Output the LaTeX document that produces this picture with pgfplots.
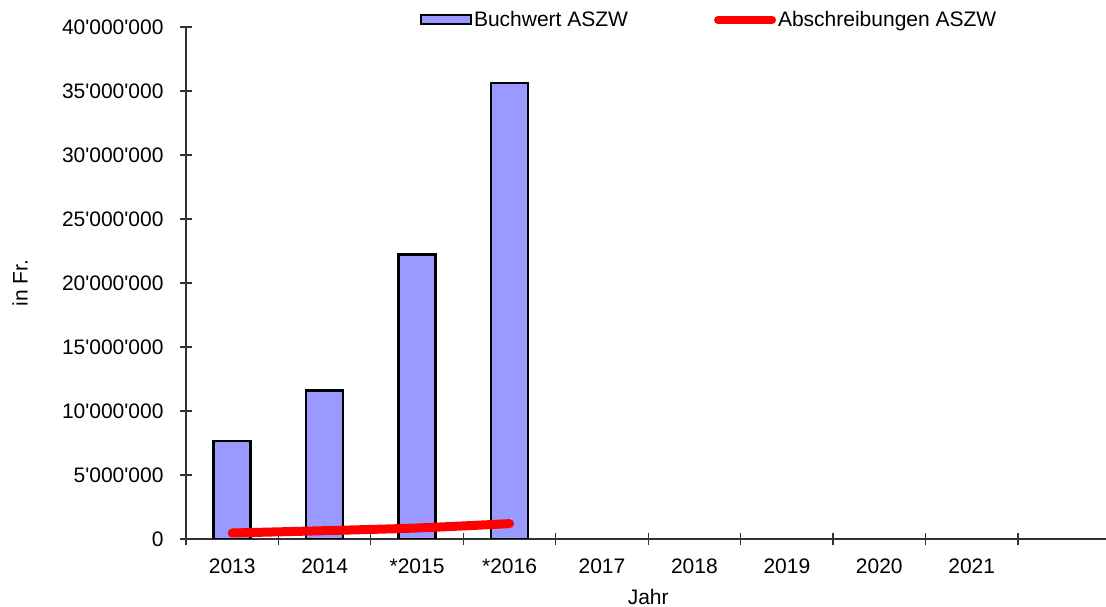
\documentclass[border=0pt]{standalone}
\usepackage{pgfplots}
\pgfplotsset{compat=1.18}
\usepackage{fontspec}
\setmainfont{Liberation Sans}[Ligatures=TeXOff]
\definecolor{barblue}{HTML}{9999FF}
\newcommand{\ff}{\fontsize{21}{25}\selectfont}
\begin{document}
\begin{tikzpicture}
\begin{axis}[
  at={(186pt,68pt)}, anchor=south west,
  scale only axis, width=924.4pt, height=512pt,
  xmin=-0.5, xmax=9.5, ymin=0, ymax=40000000,
  axis x line=bottom, axis y line=left, axis line style={-, draw=black!80, line width=1.2pt},
  xtick={0,...,8},
  xticklabels={2013,2014,*2015,*2016,2017,2018,2019,2020,2021},
  major x tick style={draw=none},
  minor xtick={-0.5,0.5,1.5,2.5,3.5,4.5,5.5,6.5,7.5,8.5},
  minor tick length=12pt, major tick length=12pt,
  tick align=center,
  every tick/.style={draw=black!80, line width=1.2pt},
  ytick={0,5000000,10000000,15000000,20000000,25000000,30000000,35000000,40000000},
  yticklabels={0,5'000'000,10'000'000,15'000'000,20'000'000,25'000'000,30'000'000,35'000'000,40'000'000},
  scaled y ticks=false,
  tick label style={font=\ff},
  yticklabel style={xshift=-13pt},
  xticklabel style={yshift=-10pt},
  label style={font=\ff},
  xlabel={Jahr}, ylabel={in Fr.},
  xlabel style={at={(axis description cs:0.5,-0.1125)}, anchor=center},
  ylabel style={at={(axis description cs:-0.1796,0.5)}, anchor=center},
  legend columns=2,
  legend style={draw=none, fill=none, font=\ff, at={(axis description cs:0.2497,1.0137)}, anchor=west,
    /tikz/every even column/.append style={column sep=84pt}},
]
\addplot[ybar, bar width=37pt, fill=barblue, draw=black, line width=2.5pt,
  legend image code/.code={\draw[fill=barblue, draw=black, line width=2pt] (0pt,-4.5pt) rectangle (50pt,4.5pt);}]
  coordinates {(0,7660000) (1,11620000) (2,22240000) (3,35620000)};
\addlegendentry{Buchwert ASZW}
\addplot[red, line width=9pt, smooth, line cap=round,
  legend image code/.code={\draw[red, line width=8pt, line cap=round] (0pt,0pt) -- (54pt,0pt);}]
  coordinates {(0,470000) (1,650000) (2,860000) (3,1200000)};
\addlegendentry{Abschreibungen ASZW}
\end{axis}
\pgfresetboundingbox
\path (0,0) rectangle (1106pt,607pt);
\end{tikzpicture}
\end{document}
